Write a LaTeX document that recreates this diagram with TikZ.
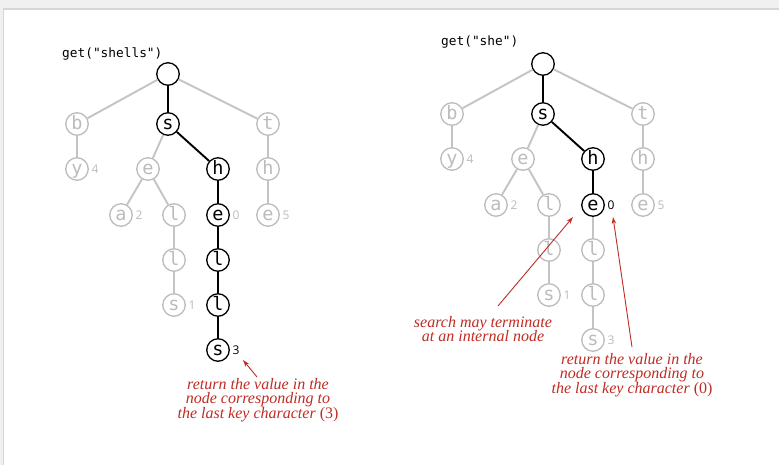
\documentclass[tikz,border=0pt]{standalone}
\usepackage{fontspec}
\newfontfamily\keyfont{DejaVu Sans Mono}
\newfontfamily\valfont{Open Sans}
\newfontfamily\notefont{Liberation Serif}
\usetikzlibrary{arrows.meta}

\definecolor{trieGray}{RGB}{188,188,188}
\definecolor{edgeGray}{RGB}{196,196,196}
\definecolor{noteRed}{RGB}{192,44,36}
\definecolor{pageGray}{RGB}{240,240,240}

\tikzset{
  trienode/.style={circle, minimum size=22.5pt, inner sep=0pt, line width=1.3pt,
    fill=white, font=\keyfont\fontsize{18.5}{18.5}\selectfont,
    text height=13.6pt, text depth=3.4pt},
  onpath/.style={trienode, draw=black, text=black},
  offpath/.style={trienode, draw=trieGray, text=trieGray},
  pathedge/.style={line width=1.9pt, black},
  grayedge/.style={line width=1.9pt, edgeGray},
  val/.style={anchor=west, inner sep=0pt, xshift=2.5pt,
    font=\valfont\fontsize{12}{12}\selectfont},
  offval/.style={val, text=trieGray},
  onval/.style={val, text=black},
  calltext/.style={anchor=base west, inner sep=0pt,
    font=\keyfont\fontsize{12.8}{12.8}\selectfont},
  note/.style={align=center, text=noteRed, inner sep=0pt,
    font=\notefont\fontsize{16}{14.8}\selectfont\itshape},
  pointer/.style={noteRed, line width=0.9pt, -{Stealth[length=7pt,width=4.5pt]}},
}

\begin{document}
\begin{tikzpicture}[x=1pt, y=-1pt]
  % page
  \useasboundingbox (0,0) rectangle (779,465);
  \fill[pageGray] (0,0) rectangle (779,465);
  \fill[black!16] (3,8.5) rectangle (779,465);
  \fill[white] (4,10) rectangle (779,465);

  % ---------- search for "shells" ----------
  \node[calltext] (Lcall) at (62,58) {get("shells")};

  \node[onpath]  (Lroot)  at (168,74) {};
  \node[offpath] (Lb)     at (77,124)  {b};
  \node[onpath]  (Ls)     at (168,124) {s};
  \node[offpath] (Lt)     at (268,124) {t};
  \node[offpath] (Ly)     at (77,169)  {y};
  \node[offpath] (Le)     at (148,169) {e};
  \node[onpath]  (Lh)     at (218,169) {h};
  \node[offpath] (Lth)    at (268,169) {h};
  \node[offpath] (La)     at (121,215) {a};
  \node[offpath] (Lel)    at (174,215) {l};
  \node[onpath]  (Lhe)    at (218,215) {e};
  \node[offpath] (Lthe)   at (268,215) {e};
  \node[offpath] (Lell)   at (174,260) {l};
  \node[onpath]  (Lhel)   at (218,260) {l};
  \node[offpath] (Lells)  at (174,305) {s};
  \node[onpath]  (Lhell)  at (218,305) {l};
  \node[onpath]  (Lhells) at (218,350) {s};

  \draw[grayedge] (Lroot) -- (Lb);
  \draw[grayedge] (Lroot) -- (Lt);
  \draw[grayedge] (Lb) -- (Ly);
  \draw[grayedge] (Ls) -- (Le);
  \draw[grayedge] (Lt) -- (Lth);
  \draw[grayedge] (Le) -- (La);
  \draw[grayedge] (Le) -- (Lel);
  \draw[grayedge] (Lth) -- (Lthe);
  \draw[grayedge] (Lel) -- (Lell);
  \draw[grayedge] (Lell) -- (Lells);
  \draw[pathedge] (Lroot) -- (Ls);
  \draw[pathedge] (Ls) -- (Lh);
  \draw[pathedge] (Lh) -- (Lhe);
  \draw[pathedge] (Lhe) -- (Lhel);
  \draw[pathedge] (Lhel) -- (Lhell);
  \draw[pathedge] (Lhell) -- (Lhells);

  \node[offval] (Lyv)    at (Ly.east)    {4};
  \node[offval] (Lav)    at (La.east)    {2};
  \node[offval] (Lhev)   at (Lhe.east)   {0};
  \node[offval] (Lthev)  at (Lthe.east)  {5};
  \node[offval] (Lellsv) at (Lells.east) {1};
  \node[onval]  (Lhellsv) at (Lhells.east) {3};

  \node[note] (Lnote) at (258,400)
    {return the value in the\\node corresponding to\\the last key character \textup{(3)}};
  \coordinate (Ltail) at (257,377);
  \coordinate (Ltip)  at (243,360);
  \draw[pointer] (Ltail) -- (Ltip);

  % ---------- search for "she" ----------
  \node[calltext] (Rcall) at (441,46) {get("she")};

  \begin{scope}[shift={(375,-10)}]
    \node[onpath]  (Rroot)  at (168,74) {};
    \node[offpath] (Rb)     at (77,124)  {b};
    \node[onpath]  (Rs)     at (168,124) {s};
    \node[offpath] (Rt)     at (268,124) {t};
    \node[offpath] (Ry)     at (77,169)  {y};
    \node[offpath] (Re)     at (148,169) {e};
    \node[onpath]  (Rh)     at (218,169) {h};
    \node[offpath] (Rth)    at (268,169) {h};
    \node[offpath] (Ra)     at (121,215) {a};
    \node[offpath] (Rel)    at (174,215) {l};
    \node[onpath]  (Rhe)    at (218,215) {e};
    \node[offpath] (Rthe)   at (268,215) {e};
    \node[offpath] (Rell)   at (174,260) {l};
    \node[offpath] (Rhel)   at (218,260) {l};
    \node[offpath] (Rells)  at (174,305) {s};
    \node[offpath] (Rhell)  at (218,305) {l};
    \node[offpath] (Rhells) at (218,350) {s};
  \end{scope}

  \draw[grayedge] (Rroot) -- (Rb);
  \draw[grayedge] (Rroot) -- (Rt);
  \draw[grayedge] (Rb) -- (Ry);
  \draw[grayedge] (Rs) -- (Re);
  \draw[grayedge] (Rt) -- (Rth);
  \draw[grayedge] (Re) -- (Ra);
  \draw[grayedge] (Re) -- (Rel);
  \draw[grayedge] (Rth) -- (Rthe);
  \draw[grayedge] (Rel) -- (Rell);
  \draw[grayedge] (Rell) -- (Rells);
  \draw[grayedge] (Rhe) -- (Rhel);
  \draw[grayedge] (Rhel) -- (Rhell);
  \draw[grayedge] (Rhell) -- (Rhells);
  \draw[pathedge] (Rroot) -- (Rs);
  \draw[pathedge] (Rs) -- (Rh);
  \draw[pathedge] (Rh) -- (Rhe);

  \node[offval] (Ryv)    at (Ry.east)    {4};
  \node[offval] (Rav)    at (Ra.east)    {2};
  \node[onval]  (Rhev)   at (Rhe.east)   {0};
  \node[offval] (Rthev)  at (Rthe.east)  {5};
  \node[offval] (Rellsv) at (Rells.east) {1};
  \node[offval] (Rhellsv) at (Rhells.east) {3};

  \node[note] (Rnote1) at (483,329)
    {search may terminate\\at an internal node};
  \coordinate (Rtail1) at (498,306);
  \coordinate (Rtip1)  at (573,217);
  \draw[pointer] (Rtail1) -- (Rtip1);

  \node[note] (Rnote2) at (632,375)
    {return the value in the\\node corresponding to\\the last key character \textup{(0)}};
  \coordinate (Rtail2) at (632,347);
  \coordinate (Rtip2)  at (613,217);
  \draw[pointer] (Rtail2) -- (Rtip2);
\end{tikzpicture}
\end{document}
